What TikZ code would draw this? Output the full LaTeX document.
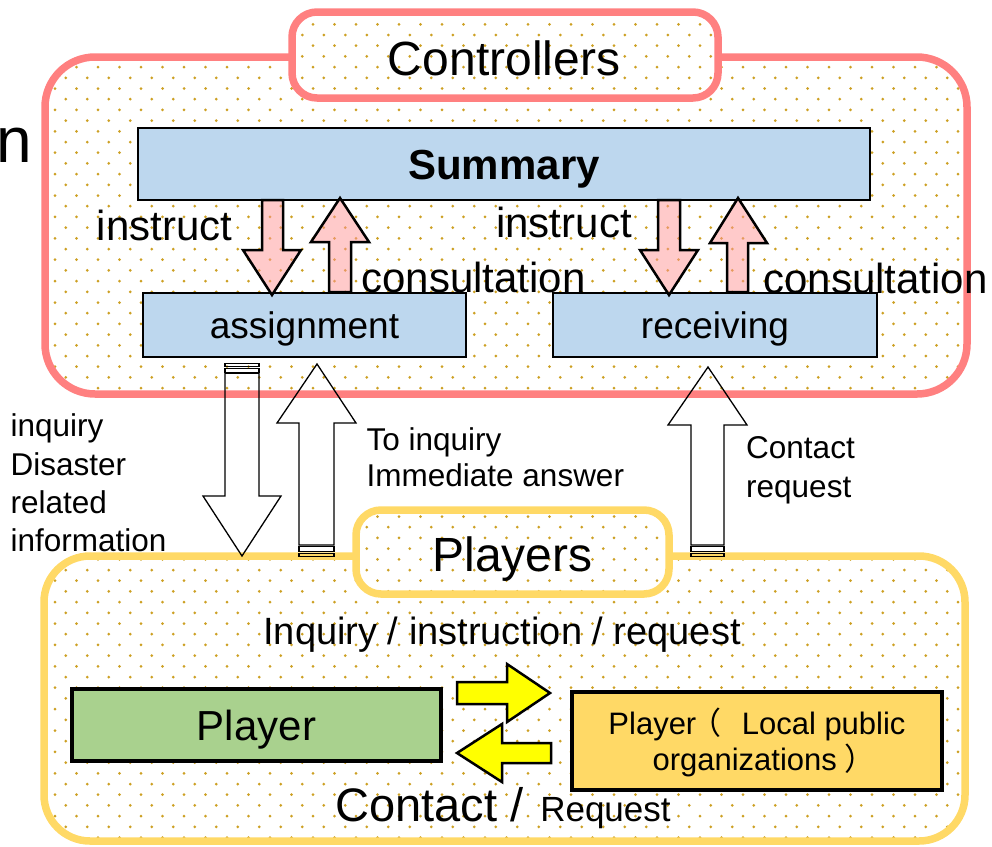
\documentclass[tikz,border=0pt]{standalone}
\usepackage{fontspec}
\setmainfont{Liberation Sans}
\newfontfamily\cjk[CharacterWidth=AlternateProportional]{Noto Sans CJK SC}
\definecolor{pinkb}{RGB}{255,128,128}
\definecolor{yelb}{RGB}{255,217,102}
\definecolor{bluef}{RGB}{189,215,238}
\definecolor{greenf}{RGB}{169,209,142}
\definecolor{goldf}{RGB}{255,217,102}
\definecolor{dotc}{RGB}{205,160,35}
\definecolor{pinkf}{RGB}{255,150,150}
\definecolor{yelf}{RGB}{255,255,0}
\newcommand\dotgrid[4]{%
  \foreach \dr in {#1,...,#2}{%
    \foreach \dc in {#3,...,#4}{%
      \fill[dotc] ({-9.5+\dc*21.5+mod(\dr,2)*10.75},{2.9+\dr*10.7}) circle[radius=1.5pt];
    }}}
\tikzset{
  lbl/.style={inner sep=0pt, anchor=base},
  bluebox/.style={draw=black, fill=bluef, line width=2.5pt, inner sep=0pt},
  pinkarrow/.style={draw=black, line width=2.5pt, fill=pinkf, fill opacity=0.5, line join=miter},
  whitearrow/.style={draw=black, line width=1.3pt, line join=miter},
  yelarrow/.style={draw=black, line width=2.5pt, fill=yelf, line join=miter},
  ctlborder/.style={draw=pinkb, line width=7.5pt},
  plyborder/.style={draw=yelb, line width=7.5pt},
}
\begin{document}
\begin{tikzpicture}[x=1pt,y=-1pt]
\useasboundingbox (0,0) rectangle (992,846);
% ---------- Controllers container ----------
\fill[white, rounded corners=50pt] (45,57) rectangle (967,394);
\begin{scope}
  \clip[rounded corners=50pt] (45,57) rectangle (967,394);
  \dotgrid{4}{37}{0}{47}
\end{scope}
\draw[ctlborder, rounded corners=50pt] (45,57) rectangle (967,394);
\fill[white, rounded corners=25pt] (292,12) rectangle (718,98);
\begin{scope}
  \clip[rounded corners=25pt] (292,12) rectangle (718,98);
  \dotgrid{0}{10}{13}{35}
\end{scope}
\draw[ctlborder, rounded corners=25pt] (292,12) rectangle (718,98);
% ---------- Players container ----------
\fill[white, rounded corners=46pt] (44,556) rectangle (965,841);
\begin{scope}
  \clip[rounded corners=46pt] (44,556) rectangle (965,841);
  \dotgrid{51}{79}{0}{47}
\end{scope}
\draw[plyborder, rounded corners=46pt] (44,556) rectangle (965,841);
\fill[white, rounded corners=25pt] (356,510) rectangle (669,594);
\begin{scope}
  \clip[rounded corners=25pt] (356,510) rectangle (669,594);
  \dotgrid{46}{56}{16}{33}
\end{scope}
\draw[plyborder, rounded corners=25pt] (356,510) rectangle (669,594);
% ---------- titles ----------
\node[lbl, font=\fontsize{48pt}{56pt}\selectfont] (ctl) at (504,75) {Controllers};
\node[lbl, font=\fontsize{48pt}{56pt}\selectfont] (ply) at (512.5,571.7) {Players};
\node[lbl, anchor=base west, font=\fontsize{64pt}{72pt}\selectfont] (nn) at (-3.5,162) {n};
% ---------- boxes ----------
\node[bluebox, minimum width=732pt, minimum height=72pt, font=\bfseries\fontsize{42pt}{50pt}\selectfont, text height=30pt, text depth=0pt] (sum) at (504,164) {Summary};
\node[bluebox, minimum width=323pt, minimum height=64pt, font=\fontsize{37pt}{44pt}\selectfont, text height=26.5pt, text depth=0pt] (asg) at (304.5,325) {assignment};
\node[bluebox, minimum width=324pt, minimum height=64pt, font=\fontsize{37pt}{44pt}\selectfont, text height=26.5pt, text depth=0pt] (rcv) at (715,325) {receiving};
% ---------- pink arrows ----------
\draw[pinkarrow] (262,200) -- (262,250) -- (243,250) -- (272,295) -- (301,250) -- (283,250) -- (283,200) -- cycle;
\draw[pinkarrow] (329,292) -- (329,242) -- (311,242) -- (340,198) -- (369,242) -- (351,242) -- (351,292) -- cycle;
\draw[pinkarrow] (658,200) -- (658,250) -- (640,250) -- (669,295) -- (698,250) -- (680,250) -- (680,200) -- cycle;
\draw[pinkarrow] (727,292) -- (727,243) -- (710,243) -- (738,198) -- (767,243) -- (748,243) -- (748,292) -- cycle;
\node[lbl, font=\fontsize{42pt}{50pt}\selectfont] (ins1) at (164.5,240) {instruct};
\node[lbl, font=\fontsize{42pt}{50pt}\selectfont] (con1) at (473.5,292) {consultation};
\node[lbl, font=\fontsize{42pt}{50pt}\selectfont] (ins2) at (564,237) {instruct};
\node[lbl, font=\fontsize{42pt}{50pt}\selectfont] (con2) at (875.5,293) {consultation};
% ---------- white arrows ----------
\draw[whitearrow] (225,373.3) -- (225,496) -- (203,496) -- (242,556) -- (281,496) -- (259,496) -- (259,373.3) -- cycle;
\draw[whitearrow] (225,368.3) rectangle (259,372.3);
\draw[whitearrow] (225,363.3) rectangle (259,366.7);
\draw[whitearrow] (299,545) -- (299,423) -- (277,423) -- (317,364) -- (356,423) -- (334,423) -- (334,545) -- cycle;
\draw[whitearrow] (299,546.7) rectangle (334,551.7);
\draw[whitearrow] (299,553.3) rectangle (334,556.7);
\draw[whitearrow] (691,545) -- (691,425) -- (668,425) -- (708,367) -- (747,425) -- (724,425) -- (724,545) -- cycle;
\draw[whitearrow] (691,546.7) rectangle (724,551.7);
\draw[whitearrow] (691,553.3) rectangle (724,556.7);
\node[lbl, anchor=base west, align=left, font=\fontsize{31.5pt}{38.3pt}\selectfont] (linfo) at (10.5,551.7) {inquiry\\Disaster\\related\\information};
\node[lbl, anchor=base west, align=left, font=\fontsize{31.5pt}{36.7pt}\selectfont] (lans) at (366.5,486.7) {To inquiry\\Immediate answer};
\node[lbl, anchor=base west, align=left, font=\fontsize{31.5pt}{39pt}\selectfont] (lreq) at (746,497) {Contact\\request};
% ---------- players ----------
\node[lbl, font=\fontsize{38pt}{45pt}\selectfont] (iir) at (502,644) {Inquiry / instruction / request};
\node[draw=black, fill=greenf, line width=4pt, minimum width=369pt, minimum height=72pt, inner sep=0pt, font=\fontsize{42pt}{50pt}\selectfont, text height=30pt, text depth=0pt] (pl1) at (256.5,725) {Player};
\node[draw=black, fill=goldf, line width=4pt, minimum width=370pt, minimum height=98pt, inner sep=0pt] (pl2) at (757,741) {};
\node[lbl, align=center, font=\fontsize{31pt}{36.7pt}\selectfont] (pl2t) at (757,770.7) {Player\hspace{9pt}{\cjk （}\hspace{21pt}Local public\\organizations\hspace{9pt}{\cjk ）}};
\draw[yelarrow] (457,682) -- (507,682) -- (507,664) -- (550,693) -- (507,722) -- (507,704) -- (457,704) -- cycle;
\draw[yelarrow] (551,743) -- (502,743) -- (502,724) -- (457,753) -- (502,782) -- (502,763) -- (551,763) -- cycle;
\node[lbl, anchor=base west] (cr) at (335,821.7) {\fontsize{47pt}{55pt}\selectfont Contact /\hspace{17pt}\fontsize{35pt}{42pt}\selectfont Request};
\end{tikzpicture}
\end{document}
